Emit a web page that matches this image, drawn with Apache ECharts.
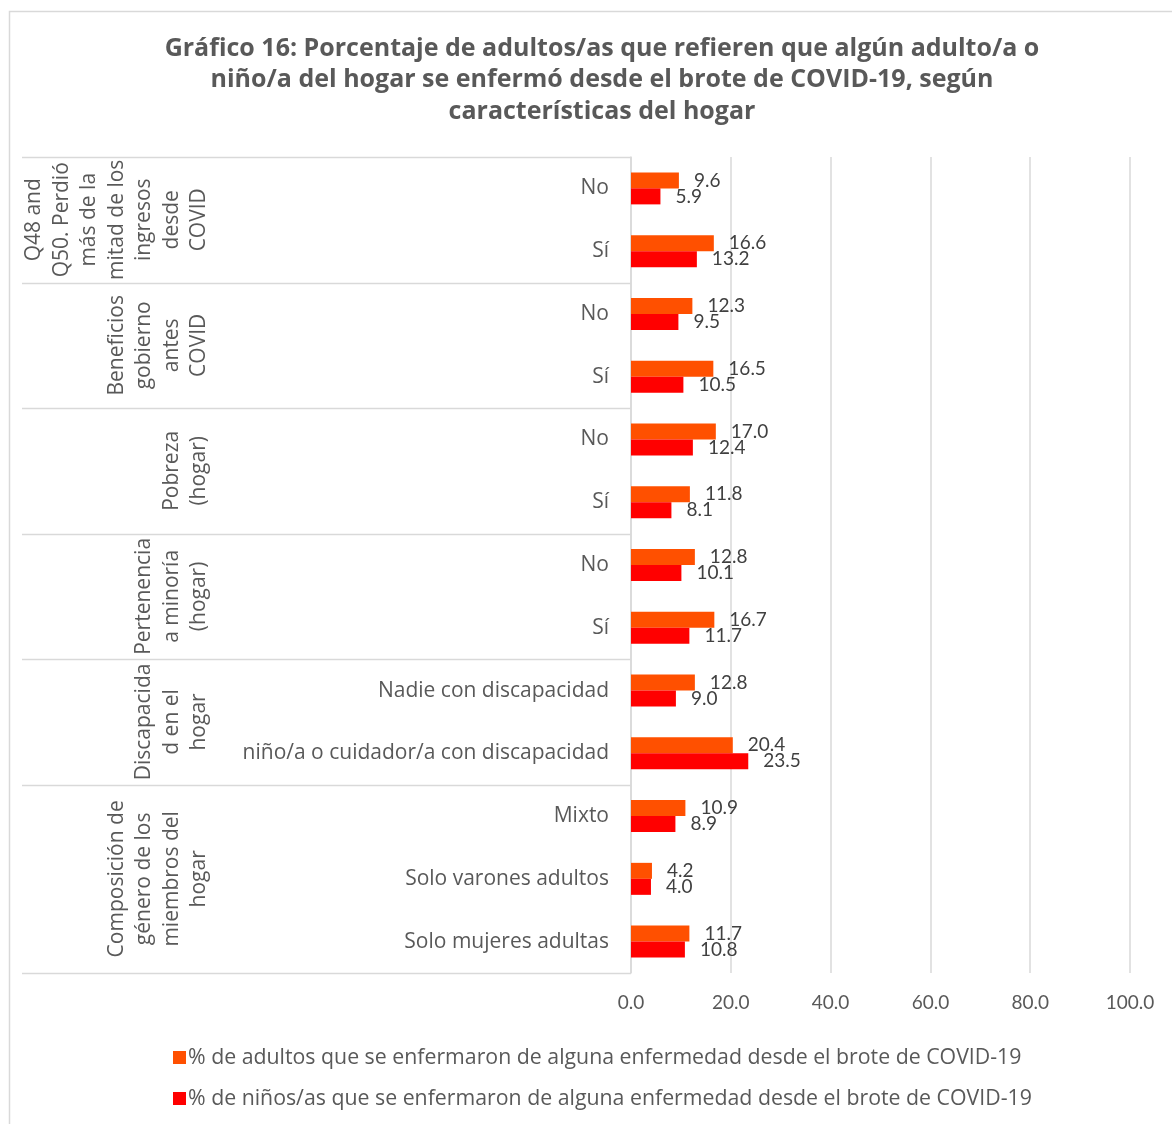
<!DOCTYPE html>
<html>
<head>
<meta charset="utf-8">
<script src="https://cdn.jsdelivr.net/npm/echarts@6/dist/echarts.min.js"></script>
<style>
  html, body { margin: 0; padding: 0; background: #fff; }
  #chart { width: 1172px; height: 1124px; }
</style>
</head>
<body>
<div id="chart"></div>
<script>
// Household characteristics (rows, top to bottom)
const categories = [
  'No', 'Sí',
  'No', 'Sí',
  'No', 'Sí',
  'No', 'Sí',
  'Nadie con discapacidad', 'niño/a o cuidador/a con discapacidad',
  'Mixto', 'Solo varones adultos', 'Solo mujeres adultas'
];

// Groups of rows: label lines and index range
const groupLabels = [
  ['Q48 and', 'Q50. Perdió', 'más de la', 'mitad de los', 'ingresos', 'desde', 'COVID'],
  ['Beneficios', 'gobierno', 'antes', 'COVID'],
  ['Pobreza', '(hogar)'],
  ['Pertenencia', 'a minoría', '(hogar)'],
  ['Discapacida', 'd en el', 'hogar'],
  ['Composición de', 'género de los', 'miembros del', 'hogar']
];
const groupRanges = [[0, 1], [2, 3], [4, 5], [6, 7], [8, 9], [10, 12]];

const seriesNames = [
  '% de adultos que se enfermaron de alguna enfermedad desde el brote de COVID-19',
  '% de niños/as que se enfermaron de alguna enfermedad desde el brote de COVID-19'
];
const adultsValues = [9.6, 16.6, 12.3, 16.5, 17.0, 11.8, 12.8, 16.7, 12.8, 20.4, 10.9, 4.2, 11.7];
const childrenValues = [5.9, 13.2, 9.5, 10.5, 12.4, 8.1, 10.1, 11.7, 9.0, 23.5, 8.9, 4.0, 10.8];

const xTicks = { min: 0, max: 100, interval: 20 };

const chart = echarts.init(document.getElementById('chart'));
const textColor = '#595959';
const lineColor = '#d9d9d9';
const font = '"Open Sans", Lato, sans-serif';
const numFont = 'Lato, "Open Sans", sans-serif';

const valueLabel = {
  show: true,
  position: 'right',
  distance: 15,
  color: '#404040',
  fontSize: 19,
  fontFamily: numFont,
  formatter: p => p.value.toFixed(1)
};

chart.setOption({
  animation: false,
  textStyle: { fontFamily: font },
  title: {
    text: 'Gráfico 16: Porcentaje de adultos/as que refieren que algún adulto/a o\nniño/a del hogar se enfermó desde el brote de COVID-19, según\ncaracterísticas del hogar',
    left: 597,
    textAlign: 'center',
    top: 28,
    textStyle: {
      color: textColor,
      fontSize: 25,
      fontWeight: 'bold',
      fontFamily: font,
      lineHeight: 31.5
    }
  },
  grid: { left: 631, right: 42, top: 157, bottom: 151, containLabel: false },
  xAxis: {
    type: 'value',
    min: xTicks.min,
    max: xTicks.max,
    interval: xTicks.interval,
    axisLine: { show: false },
    axisTick: { show: false },
    axisLabel: {
      color: textColor,
      fontSize: 19,
      fontFamily: numFont,
      margin: 20,
      formatter: v => v.toFixed(1)
    },
    splitLine: { show: true, lineStyle: { color: lineColor, width: 1.5 } }
  },
  yAxis: {
    type: 'category',
    data: categories,
    inverse: true,
    axisLine: { show: true, lineStyle: { color: lineColor, width: 1.5 } },
    axisTick: { show: false },
    axisLabel: {
      color: textColor,
      fontSize: 21,
      fontFamily: font,
      margin: 22
    }
  },
  legend: {
    orient: 'vertical',
    left: 168,
    top: 1042,
    itemWidth: 13,
    itemHeight: 13,
    itemGap: 20,
    icon: 'rect',
    textStyle: { color: textColor, fontSize: 21.3, fontFamily: font, padding: [0, 0, 0, -3] },
    data: seriesNames
  },
  series: [
    {
      name: seriesNames[0],
      type: 'bar',
      data: adultsValues,
      barWidth: 16,
      barGap: '0%',
      itemStyle: { color: '#FF5000' },
      label: valueLabel
    },
    {
      name: seriesNames[1],
      type: 'bar',
      data: childrenValues,
      barWidth: 16,
      barGap: '0%',
      itemStyle: { color: '#FF0000' },
      label: valueLabel
    }
  ]
});

// Table-style group labels and separators left of the category axis
function drawGroups() {
  const c0 = chart.convertToPixel({ yAxisIndex: 0 }, 0);
  const c1 = chart.convertToPixel({ yAxisIndex: 0 }, 1);
  const step = c1 - c0;
  const axisX = chart.convertToPixel({ xAxisIndex: 0 }, 0);
  const elements = [];
  // outer frame
  elements.push({
    type: 'rect',
    shape: { x: 9.5, y: 11.5, width: 1200, height: 1200 },
    style: { fill: 'none', stroke: lineColor, lineWidth: 1.5 },
    silent: true
  });
  const boundaries = [groupRanges[0][0]].concat(groupRanges.map(r => r[1] + 1));
  boundaries.forEach(i => {
    const y = Math.round(c0 + (i - 0.5) * step) + 0.5;
    elements.push({
      type: 'line',
      shape: { x1: 22, y1: y, x2: axisX, y2: y },
      style: { stroke: lineColor, lineWidth: 1.5 },
      silent: true
    });
  });
  groupRanges.forEach((r, gi) => {
    const yc = c0 + ((r[0] + r[1]) / 2) * step;
    elements.push({
      type: 'text',
      x: 213,
      y: yc,
      rotation: Math.PI / 2,
      style: {
        text: groupLabels[gi].join('\n'),
        fill: textColor,
        fontSize: 21,
        fontFamily: font,
        lineHeight: 27.5,
        align: 'center',
        verticalAlign: 'bottom'
      },
      silent: true
    });
  });
  chart.setOption({ graphic: { elements } });
}
drawGroups();
</script>
</body>
</html>
